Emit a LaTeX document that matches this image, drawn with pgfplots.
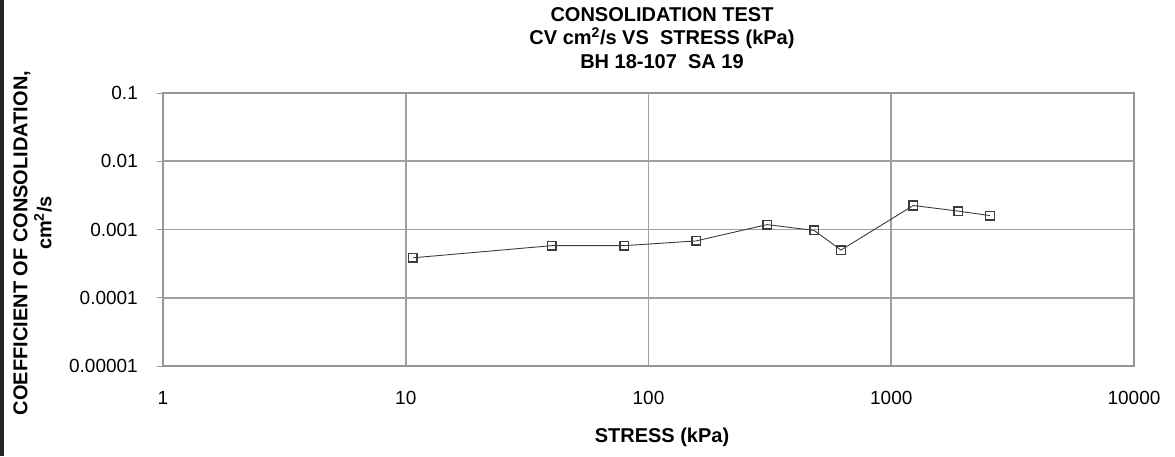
\documentclass[border=0pt]{standalone}
\usepackage{pgfplots}
\pgfplotsset{compat=1.18}
\usepackage{fontspec}
\setmainfont{Liberation Sans}

\definecolor{gridgray}{RGB}{160,160,160}
\definecolor{framegray}{RGB}{150,150,150}
\definecolor{markgray}{RGB}{60,60,60}

\begin{document}
\begin{tikzpicture}[x=1pt,y=1pt]
\useasboundingbox (0,0) rectangle (1175,456);
% dark edge strip on the left of the sheet
\fill[black!85] (0,0) rectangle (4,456);

\begin{axis}[
  at={(163pt,90pt)}, anchor=south west,
  scale only axis, width=971pt, height=273pt,
  xmode=log, ymode=log,
  xmin=1, xmax=10000, ymin=1e-5, ymax=0.1,
  xtick={1,10,100,1000,10000},
  xticklabels={\textrm{1},\textrm{10},\textrm{100},\textrm{1000},\textrm{10000}},
  ytick={1e-5,1e-4,1e-3,1e-2,1e-1},
  yticklabels={\textrm{0.00001},\textrm{0.0001},\textrm{0.001},\textrm{0.01},\textrm{0.1}},
  minor tick num=0,
  log basis x=10, log basis y=10,
  grid=major,
  major grid style={gridgray, line width=1.6pt},
  axis line style={framegray, line width=1.2pt},
  tick style={framegray, line width=1pt},
  tick align=outside, major tick length=6pt,
  xtick pos=bottom, ytick pos=left,
  xtick style={draw=none},
  ticklabel style={font=\fontsize{19}{22}\selectfont, text=black},
  xticklabel style={anchor=center, yshift=-26pt, inner sep=0pt},
  yticklabel style={anchor=east, xshift=-19pt, inner sep=0pt},
  clip=false,
]
\addplot[color=markgray, line width=0.9pt,
  mark=square, mark size=4.3pt,
  mark options={solid, line width=1.5pt, draw=markgray, fill=white}]
coordinates {
  (10.7, 0.000385)
  (40, 0.00058)
  (79.5, 0.00058)
  (157, 0.00068)
  (308, 0.00118)
  (481, 0.00097)
  (621, 0.00050)
  (1233, 0.00225)
  (1890, 0.00186)
  (2552, 0.00160)
};
\end{axis}

% title block
\node[font=\bfseries\fontsize{20}{23.5}\selectfont, align=center] at (662,418)
  {CONSOLIDATION TEST\\CV cm\textsuperscript{2}/s VS\ \ STRESS (kPa)\\BH 18-107\ \ SA 19};
% axis titles
\node[font=\bfseries\fontsize{20}{24}\selectfont, rotate=90] at (22,213)
  {COEFFICIENT OF CONSOLIDATION,};
\node[font=\bfseries\fontsize{20}{24}\selectfont, rotate=90] at (43,233)
  {cm\textsuperscript{2}/s};
\node[font=\bfseries\fontsize{20}{24}\selectfont] at (662,19) {STRESS (kPa)};
\end{tikzpicture}
\end{document}
